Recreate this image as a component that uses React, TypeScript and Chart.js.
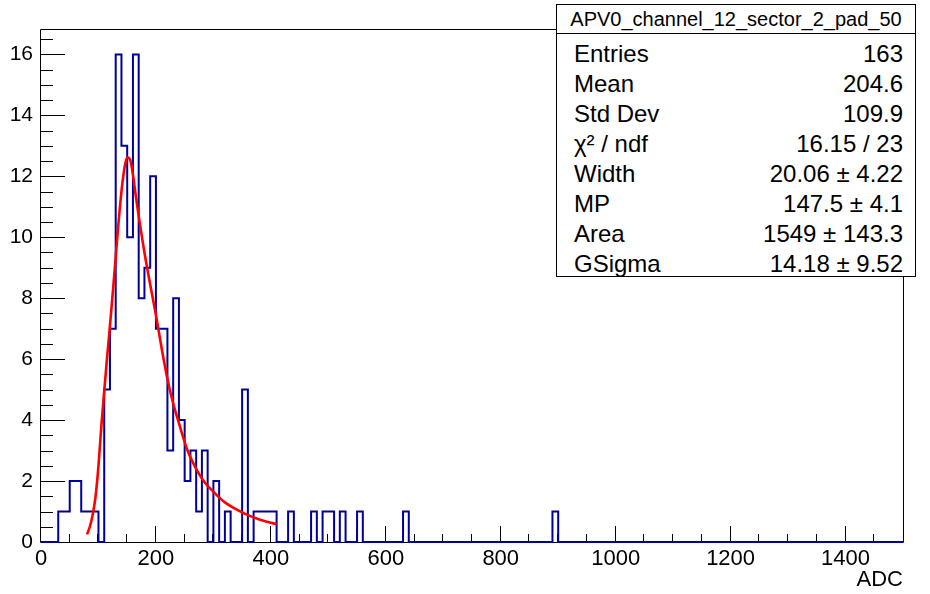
import { useEffect, useRef } from 'react';
import { Chart, registerables } from 'chart.js';

Chart.register(...registerables);

// Histogram: 150 bins of width 10 ADC from 0 to 1500
const binWidth = 10;
const xMin = 0;
const xMax = 1500;
const yMax = 16.8;
const binCounts = [
  0, 0, 0, 1, 1, 2, 2, 1, 1, 1,
  0, 5, 7, 16, 13, 10, 16, 8, 9, 12,
  7, 7, 3, 8, 4, 2, 3, 1, 3, 0,
  2, 0, 1, 0, 0, 5, 0, 1, 1, 1,
  1, 0, 0, 1, 0, 0, 0, 1, 0, 1,
  1, 0, 1, 0, 0, 1, 0, 0, 0, 0,
  0, 0, 0, 1, 0, 0, 0, 0, 0, 0,
  0, 0, 0, 0, 0, 0, 0, 0, 0, 0,
  0, 0, 0, 0, 0, 0, 0, 0, 0, 1,
  0, 0, 0, 0, 0, 0, 0, 0, 0, 0,
  0, 0, 0, 0, 0, 0, 0, 0, 0, 0,
  0, 0, 0, 0, 0, 0, 0, 0, 0, 0,
  0, 0, 0, 0, 0, 0, 0, 0, 0, 0,
  0, 0, 0, 0, 0, 0, 0, 0, 0, 0,
  0, 0, 0, 0, 0, 0, 0, 0, 0, 0,
];

// Landau-Gauss fit curve
const fitX = [80, 85, 90, 95, 100, 105, 110, 115, 120, 125, 130, 135, 140, 145, 150, 155, 160, 165, 170, 180, 190, 200, 210, 220, 230, 240, 255, 270, 285, 300, 320, 340, 360, 380, 400, 410];
const fitY = [0.25, 0.5, 0.9, 1.5, 2.5, 3.8, 4.95, 6.05, 7.1, 8.2, 9.35, 10.5, 11.5, 12.25, 12.62, 12.55, 12.05, 11.35, 10.7, 9.5, 8.45, 7.45, 6.35, 5.35, 4.55, 3.9, 3.0, 2.4, 1.95, 1.65, 1.3, 1.07, 0.88, 0.74, 0.63, 0.59];

const xMajorStep = 200;
const xMinorStep = 50;
const yMajorStep = 2;
const yMinorStep = 0.5;
const xAxisTitle = 'ADC';

const statsTitle = 'APV0_channel_12_sector_2_pad_50';
const statsLabels = ['Entries', 'Mean', 'Std Dev', 'χ² / ndf', 'Width', 'MP', 'Area', 'GSigma'];
const statsValues = ['163', '204.6', '109.9', '16.15 / 23', '20.06 ± 4.22', '147.5 ± 4.1', '1549 ± 143.3', '14.18 ± 9.52'];

const FONT = '"Liberation Sans", Arial, Helvetica, sans-serif';

const frameTicks = {
  id: 'frameTicks',
  beforeDatasetsDraw(chart: any) {
    const { ctx, chartArea: a, scales } = chart;
    const x = scales.x;
    const y = scales.y;
    ctx.save();
    ctx.strokeStyle = '#000';
    ctx.lineWidth = 1;
    ctx.beginPath();
    ctx.rect(Math.round(a.left) - 0.5, Math.round(a.top) - 0.5, Math.round(a.right - a.left) + 1, Math.round(a.bottom - a.top) + 1);
    ctx.stroke();
    ctx.beginPath();
    for (let v = xMin; v < xMax; v += xMinorStep) {
      const px = Math.round(x.getPixelForValue(v)) - 0.5;
      const len = v % xMajorStep === 0 ? 16 : 8;
      ctx.moveTo(px, a.bottom);
      ctx.lineTo(px, a.bottom - len);
    }
    for (let v = 0; v < yMax; v += yMinorStep) {
      const py = Math.round(y.getPixelForValue(v)) + 0.5;
      const len = v % yMajorStep === 0 ? 24 : 12;
      ctx.moveTo(a.left, py);
      ctx.lineTo(a.left + len, py);
    }
    ctx.stroke();
    ctx.restore();
  },
};

export default function App() {
  const ref = useRef<HTMLCanvasElement | null>(null);

  useEffect(() => {
    if (!ref.current) return;
    const histPoints = binCounts.map((c, i) => ({ x: xMin + i * binWidth, y: c }));
    histPoints.push({ x: xMax, y: 0 });
    const fitPoints = fitX.map((v, i) => ({ x: v, y: fitY[i] }));

    const chart = new Chart(ref.current, {
      type: 'line',
      data: {
        datasets: [
          {
            data: fitPoints,
            borderColor: '#ff0000',
            borderWidth: 2.6,
            pointRadius: 0,
            cubicInterpolationMode: 'monotone',
            fill: false,
            order: 0,
          },
          {
            data: histPoints,
            borderColor: '#000099',
            borderWidth: 2,
            pointRadius: 0,
            stepped: 'before',
            fill: false,
            clip: false,
            order: 1,
          },
        ],
      },
      options: {
        animation: false,
        responsive: false,
        parsing: false,
        plugins: { legend: { display: false }, tooltip: { enabled: false } },
        layout: { padding: { top: 30, right: 27, left: 0, bottom: 0 } },
        scales: {
          x: {
            type: 'linear',
            min: xMin,
            max: xMax,
            grid: { display: false, drawTicks: false },
            border: { display: false },
            ticks: {
              stepSize: xMajorStep,
              includeBounds: false,
              padding: 4,
              color: '#000',
              font: { family: FONT, size: 22 },
              maxRotation: 0,
              callback: (v: any) => String(v),
            },
            title: {
              display: true,
              text: xAxisTitle,
              align: 'end',
              color: '#000',
              font: { family: FONT, size: 22 },
              padding: { top: 0, bottom: 1 },
            },
            afterFit(scale: any) {
              scale.height = 52;
            },
          },
          y: {
            type: 'linear',
            min: 0,
            max: yMax,
            grid: { display: false, drawTicks: false },
            border: { display: false },
            ticks: {
              stepSize: yMajorStep,
              includeBounds: false,
              padding: 8,
              color: '#000',
              font: { family: FONT, size: 21 },
              callback: (v: any) => String(v),
            },
            afterFit(scale: any) {
              scale.width = 41;
            },
          },
        },
      },
      plugins: [frameTicks],
    } as any);
    return () => chart.destroy();
  }, []);

  return (
    <div style={{ position: 'fixed', left: 0, top: 0, width: 930, height: 594, background: '#fff' }}>
      <canvas ref={ref} width={930} height={594} style={{ position: 'absolute', left: 0, top: 0 }} />
      <div
        style={{
          position: 'absolute',
          left: 556,
          top: 4,
          width: 360,
          height: 273,
          boxSizing: 'border-box',
          border: '1px solid #000',
          background: '#fff',
          fontFamily: FONT,
          color: '#000',
        }}
      >
        <div
          style={{
            height: 28,
            borderBottom: '1px solid #000',
            fontSize: 20,
            lineHeight: '29px',
            textAlign: 'center',
            whiteSpace: 'nowrap',
          }}
        >
          {statsTitle}
        </div>
        <div style={{ paddingTop: 5 }}>
          {statsLabels.map((label, i) => (
            <div
              key={label}
              style={{
                height: 30,
                lineHeight: '30px',
                fontSize: 24,
                display: 'flex',
                justifyContent: 'space-between',
                padding: '0 12px 0 17px',
                whiteSpace: 'nowrap',
              }}
            >
              <span>{label}</span>
              <span>{statsValues[i]}</span>
            </div>
          ))}
        </div>
      </div>
    </div>
  );
}
